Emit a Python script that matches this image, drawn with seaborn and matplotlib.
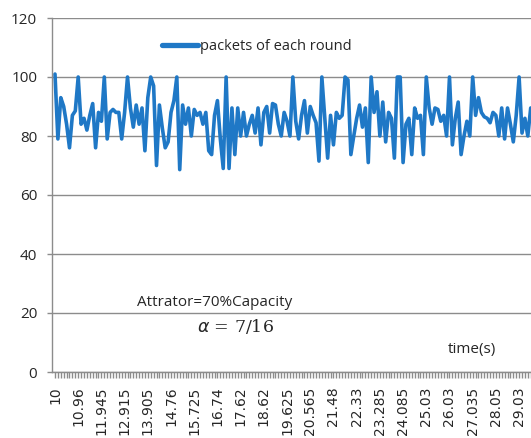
import matplotlib
matplotlib.use("Agg")
import matplotlib.pyplot as plt
import seaborn as sns
import numpy as np
import pandas as pd

packets = [101, 79, 93, 90, 84, 76, 87, 88.5, 100, 84,
           86, 82, 87, 91, 76, 88, 85, 100, 79, 88,
           89, 88, 88, 79, 88, 100, 89.5, 83, 90.5, 84,
           89.5, 75, 93, 100, 97, 70, 90.5, 82.7, 76, 78,
           88, 92, 100, 68.6, 90.5, 84, 89.5, 80, 89, 87,
           88, 84, 88, 75, 73.7, 87, 92, 79, 69, 100,
           69, 89.5, 73.7, 89.5, 80, 88, 80, 84, 87, 81,
           89.5, 77, 88, 90, 81, 91, 90.5, 84, 80, 88,
           85, 80, 100, 85, 79, 87, 92, 81, 90, 87,
           84.5, 71.5, 100, 86, 72.5, 87, 77, 88, 86, 87,
           100, 99, 73.7, 80, 86, 90.5, 83, 89.5, 71, 100,
           88, 95, 80, 91.5, 78, 88, 86, 72.5, 100, 100,
           71, 84, 86, 73.7, 89.5, 86, 87, 73.7, 100, 89.5,
           84, 89.5, 89, 85, 87, 80, 100, 77, 86, 91.5,
           73.7, 80, 85, 80, 100, 87, 93, 88, 86.5, 86,
           84.5, 88, 87, 80, 89.5, 79, 89.5, 84, 78, 87,
           100, 81, 86, 80, 89.5]

time_labels = ["10", "10.96", "11.945", "12.915", "13.905", "14.76", "15.725",
               "16.74", "17.62", "18.62", "19.625", "20.565", "21.48", "22.33",
               "23.285", "24.085", "25.03", "26.03", "27.035", "28.05", "29.03"]
label_step = 8

series_name = "packets of each round"

df = pd.DataFrame({"idx": np.arange(len(packets)), "packets": packets})

sns.set_style("white")
plt.rcParams["font.family"] = ["DejaVu Sans"]

W, H = 531, 438
fig = plt.figure(figsize=(W / 100, H / 100), dpi=100)
ax = fig.add_axes([52 / W, 66 / H, (W - 52) / W, (372 - 18) / H])

blue = "#1f78c6"
grid_c = "#8c8c8c"

sns.lineplot(data=df, x="idx", y="packets", ax=ax, color=blue, linewidth=2.6,
             label=series_name)

ax.set_xlim(-1.03, 164.1)
ax.set_ylim(0, 120)
ax.set_yticks(np.arange(0, 121, 20))
ax.yaxis.grid(True, color=grid_c, linewidth=1.0)
ax.xaxis.grid(False)
ax.set_axisbelow(True)

for side in ["top", "right"]:
    ax.spines[side].set_visible(False)
for side in ["left", "bottom"]:
    ax.spines[side].set_color(grid_c)
    ax.spines[side].set_linewidth(1.0)

ticks = np.arange(len(packets))
ax.set_xticks(ticks)
labels = []
for t in ticks:
    if t % label_step == 0 and t // label_step < len(time_labels):
        labels.append(time_labels[t // label_step])
    else:
        labels.append("")
ax.set_xticklabels(labels, rotation=90, fontsize=10, family="DejaVu Sans",
                   va="top", ha="center")
ax.tick_params(axis="x", length=4.5, width=1.0, color=grid_c, pad=6, bottom=True)
ax.tick_params(axis="y", length=3.6, width=1.0, color=grid_c, pad=7, left=True,
               labelsize=11)
for lab in ax.get_yticklabels():
    lab.set_family("Open Sans")
ax.set_xlabel("")
ax.set_ylabel("")

leg = ax.legend(loc="center left", bbox_to_anchor=((162 - 52) / (W - 52), (372 - 47) / (372 - 18)),
                frameon=False, borderpad=0, borderaxespad=0, handlelength=2.5,
                handletextpad=0.1, prop={"family": "Open Sans", "size": 10.5})
for line in leg.get_lines():
    line.set_linewidth(3.8)

fig.text(137 / W, 1 - 302 / H, "Attrator=70%Capacity", family="Open Sans",
         fontsize=11, va="center", ha="left")
fig.text(197 / W, 1 - 327 / H, r"$\alpha$ = 7/16", family="DejaVu Serif",
         fontsize=12.5, va="center", ha="left")
fig.text(448 / W, 1 - 350 / H, "time(s)", family="Open Sans",
         fontsize=11, va="center", ha="left")

fig.savefig("out.png", dpi=100)
